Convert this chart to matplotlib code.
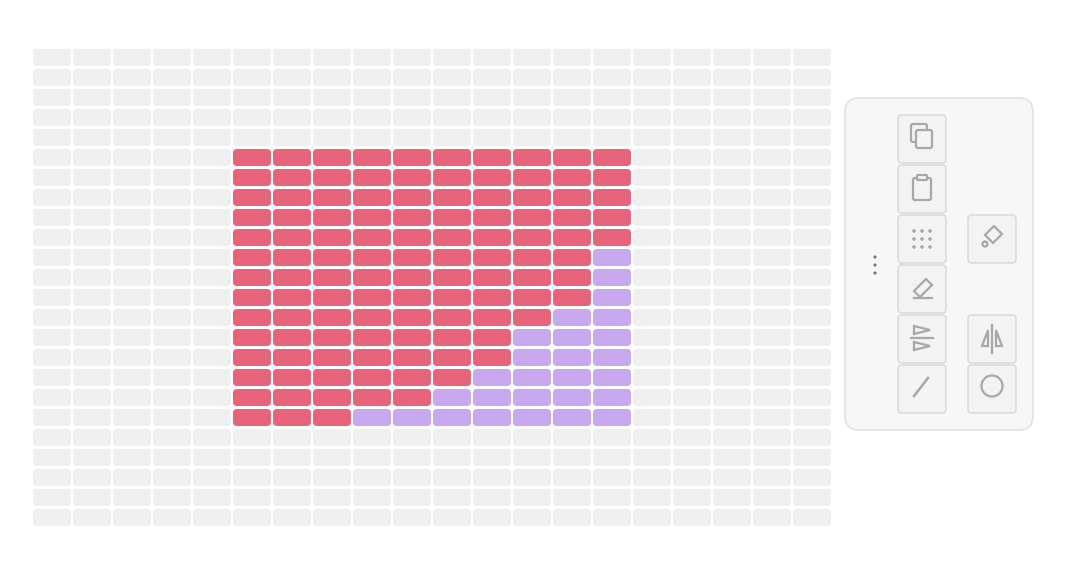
import matplotlib
matplotlib.use("Agg")
import matplotlib.pyplot as plt
from matplotlib.patches import FancyBboxPatch, Rectangle, Circle, Polygon
import numpy as np

n_cols = 20
n_rows = 24
block_col_start = 5
block_row_start = 5
# red cells per row in the filled block (each row is 10 cells wide), rest purple
red_counts = [10, 10, 10, 10, 10, 9, 9, 9, 8, 7, 7, 6, 5, 3]
block_width = 10

C_BG = "#efefef"; C_RED = "#e8647b"; C_PUR = "#c8a8ef"

fig = plt.figure(figsize=(10.82, 5.76), dpi=100)
ax = fig.add_axes([0, 0, 1, 1])
ax.set_xlim(0, 1082); ax.set_ylim(576, 0); ax.axis("off")

def rr(x, y, w, h, fc, ec="none", r=4, lw=1, z=1):
    ax.add_patch(FancyBboxPatch((x + r, y + r), w - 2*r, h - 2*r,
                 boxstyle=f"round,pad={r}", fc=fc, ec=ec, lw=lw, zorder=z))

for r in range(n_rows):
    for c in range(n_cols):
        col = C_BG
        br = r - block_row_start
        bc = c - block_col_start
        if 0 <= br < len(red_counts) and 0 <= bc < block_width:
            col = C_RED if bc < red_counts[br] else C_PUR
        rr(33 + 40*c, 49 + 20*r, 38, 17, col, r=4)

# toolbar panel
rr(845, 98, 188, 332, "#f7f7f7", ec="#e2e2e2", r=14, lw=1.2)
g = "#a8a8a8"
for y in (257, 265, 273):
    ax.add_patch(Circle((875, y), 1.6, fc="#777", ec="none", zorder=3))
btns = [(898, 115), (898, 165), (898, 215), (898, 265), (898, 315), (898, 365),
        (968, 215), (968, 315), (968, 365)]
for x, y in btns:
    rr(x, y, 48, 48, "#f3f3f3", ec="#dcdcdc", r=4, lw=1.2, z=2)
kw = dict(fc="none", ec=g, lw=1.6, zorder=3)
# copy
rr(911, 124, 16, 18, "none", ec=g, r=2, lw=1.6, z=3)
rr(916, 130, 16, 18, "#f3f3f3", ec=g, r=2, lw=1.6, z=4)
# clipboard
rr(913, 178, 18, 22, "none", ec=g, r=2, lw=1.6, z=3)
rr(917, 175, 10, 5, "#f3f3f3", ec=g, r=1, lw=1.6, z=4)
# dots grid
for i in range(3):
    for j in range(3):
        ax.add_patch(Circle((914 + 8*i, 231 + 8*j), 1.8, fc=g, ec="none", zorder=3))
# eraser
ax.add_patch(Polygon([[914, 291], [926, 279], [932, 285], [920, 297]], closed=True, **kw))
ax.plot([914, 932], [298, 298], color=g, lw=1.6, zorder=3)
# paint bucket-ish
ax.add_patch(Polygon([[985, 235], [994, 226], [1002, 234], [993, 243]], closed=True, **kw))
ax.add_patch(Circle((985, 244), 2.5, **kw))
# flip horizontal
ax.add_patch(Polygon([[914, 326], [930, 330], [914, 334]], closed=True, **kw))
ax.plot([911, 933], [338, 338], color=g, lw=1.6, zorder=3)
ax.add_patch(Polygon([[914, 342], [930, 346], [914, 350]], closed=True, **kw))
# flip vertical
ax.plot([992, 992], [325, 353], color=g, lw=1.6, zorder=3)
ax.add_patch(Polygon([[988, 330], [988, 346], [982, 346]], closed=True, **kw))
ax.add_patch(Polygon([[996, 330], [996, 346], [1002, 346]], closed=True, **kw))
# line
ax.plot([914, 928], [396, 378], color=g, lw=1.8, zorder=3)
# circle
ax.add_patch(Circle((992, 386), 10.5, **kw))

fig.savefig("out.png", dpi=100, facecolor="white")
